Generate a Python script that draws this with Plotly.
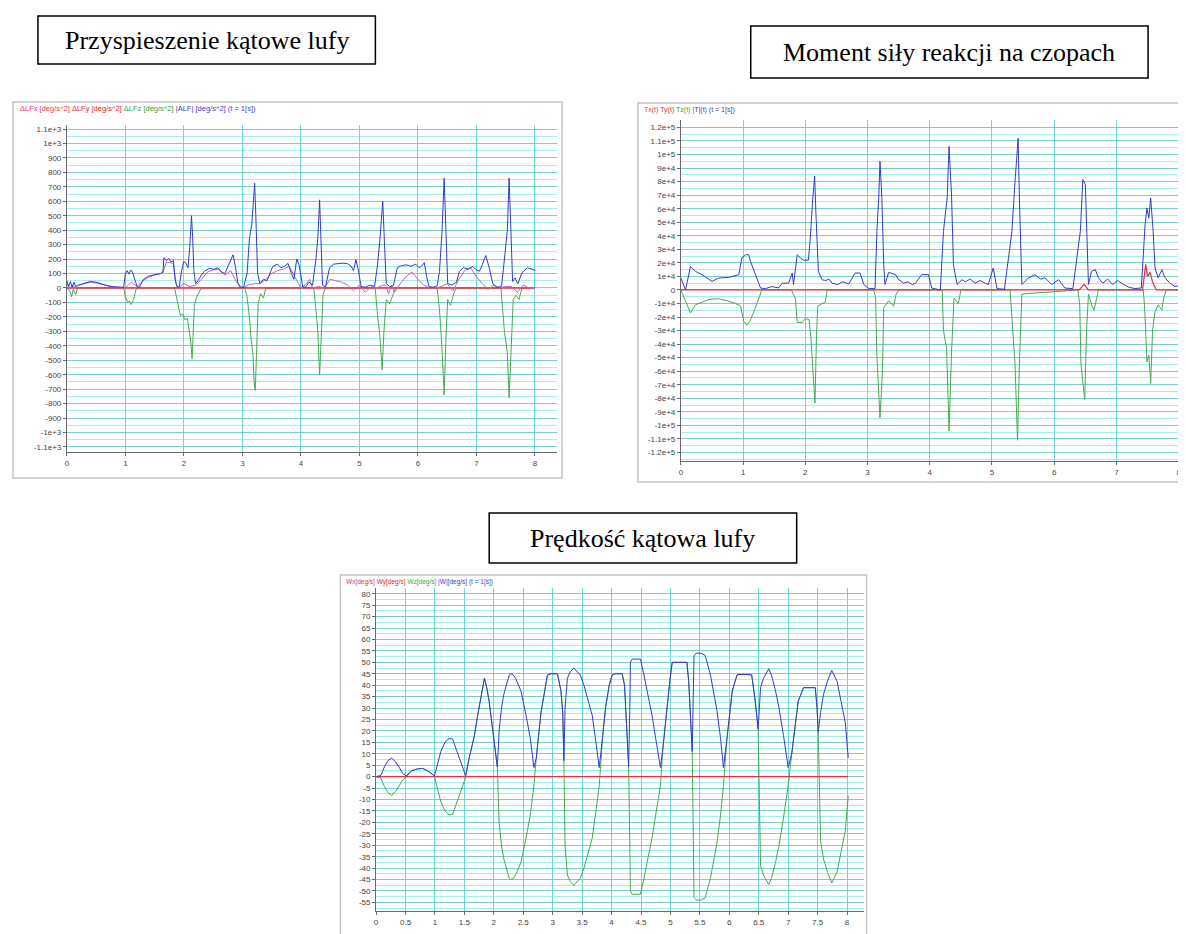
import plotly.graph_objects as go
import numpy as np

W, H = 1186, 934

# ---------------- Chart 1: Przyspieszenie kątowe lufy  [deg/s^2] ----------------
acc_t_mag = [0.00,0.03,0.06,0.09,0.12,0.15,0.20,0.30,0.40,0.50,
             0.60,0.70,0.80,0.90,0.97,1.00,1.03,1.06,1.09,1.12,
             1.16,1.20,1.24,1.30,1.38,1.46,1.54,1.60,1.64,1.66,
             1.70,1.74,1.78,1.82,1.85,1.88,1.92,1.96,2.00,2.04,
             2.07,2.10,2.12,2.13,2.15,2.17,2.20,2.24,2.30,2.36,
             2.44,2.52,2.58,2.64,2.70,2.75,2.80,2.84,2.88,2.92,
             2.96,3.02,3.08,3.12,3.16,3.19,3.21,3.23,3.26,3.30,
             3.36,3.42,3.48,3.52,3.60,3.66,3.72,3.78,3.84,3.88,
             3.93,3.97,4.03,4.08,4.14,4.20,4.26,4.29,4.32,4.35,
             4.37,4.42,4.49,4.56,4.64,4.72,4.80,4.86,4.90,4.94,
             4.98,5.03,5.10,5.18,5.26,5.31,5.35,5.40,5.43,5.46,
             5.52,5.58,5.65,5.72,5.80,5.88,5.96,6.02,6.06,6.11,
             6.15,6.19,6.26,6.33,6.37,6.41,6.45,6.48,6.51,6.58,
             6.66,6.71,6.78,6.86,6.94,7.00,7.05,7.10,7.16,7.22,
             7.28,7.35,7.43,7.47,7.53,7.56,7.59,7.62,7.66,7.71,
             7.78,7.87,7.95,8.01]
acc_mag = [50,10,45,5,40,10,20,35,45,40,
           25,15,8,5,5,100,120,95,125,110,
           60,10,5,55,80,90,95,100,110,210,
           190,205,180,190,60,10,5,120,185,170,
           140,280,400,500,350,120,30,50,90,120,
           135,130,140,110,100,150,200,230,150,40,
           5,5,100,340,440,600,725,500,100,30,
           60,50,110,150,165,140,150,170,100,60,
           200,160,10,5,40,20,210,350,610,280,
           20,5,140,165,170,172,168,150,120,195,
           130,10,5,20,10,160,330,600,300,30,
           10,15,140,155,160,150,165,140,150,175,
           80,10,5,15,115,370,760,400,30,20,
           40,115,140,130,150,125,115,160,225,140,
           30,5,10,160,400,760,450,45,70,30,
           105,140,130,120]

acc_t_z = [0.00,0.05,0.08,0.11,0.15,0.18,
           0.97,1.00,1.04,1.07,1.10,1.14,1.18,1.22,
           1.84,1.87,1.90,1.94,1.98,2.02,2.06,2.09,2.12,2.14,2.16,2.18,2.22,2.26,2.30,
           3.04,3.08,3.12,3.15,3.18,3.20,3.22,3.24,3.27,3.31,3.36,3.40,
           4.22,4.26,4.29,4.32,4.35,4.38,4.42,
           5.27,5.31,5.35,5.39,5.42,5.46,5.52,5.58,5.62,
           6.33,6.37,6.41,6.45,6.48,6.51,6.56,6.62,6.66,
           7.42,7.48,7.53,7.56,7.59,7.63,7.68,7.73,7.78,
           8.00]
acc_z = [0,-20,-60,-10,-45,0,
         0,-60,-100,-90,-115,-80,-10,0,
         0,-60,-130,-190,-180,-220,-210,-300,-380,-490,-330,-120,-60,-30,0,
         0,-60,-200,-360,-450,-650,-710,-450,-110,-40,-70,0,
         0,-160,-300,-600,-250,-40,0,
         0,-185,-330,-565,-300,-80,-110,-40,0,
         0,-150,-400,-740,-350,-80,-120,-30,0,
         0,-300,-450,-760,-420,-80,-50,-80,0,
         0]

acc_t_y = [0.00,0.05,0.10,0.15,0.20,0.30,0.40,0.50,0.60,0.75,
           0.90,1.00,1.10,1.20,1.30,1.40,1.50,1.60,1.64,1.70,
           1.76,1.82,1.86,1.90,2.00,2.10,2.20,2.30,2.40,2.50,
           2.60,2.70,2.80,2.90,3.00,3.10,3.20,3.30,3.40,3.50,
           3.60,3.70,3.80,3.90,4.00,4.10,4.15,4.20,4.30,4.40,
           4.50,4.60,4.70,4.80,4.90,5.00,5.10,5.20,5.30,5.40,
           5.45,5.50,5.55,5.60,5.70,5.80,5.90,6.00,6.10,6.20,
           6.30,6.40,6.50,6.60,6.70,6.80,6.90,7.00,7.10,7.20,
           7.30,7.40,7.50,7.60,7.70,7.80,7.90,8.00]
acc_y = [30,-10,20,0,20,30,40,35,25,10,
         5,0,40,10,50,75,90,100,105,180,
         175,170,40,0,30,10,20,60,110,125,
         130,90,120,40,0,20,30,30,60,100,
         120,130,150,80,0,30,60,0,10,0,
         60,50,40,20,-20,20,-30,10,0,20,
         20,-40,20,-30,30,80,110,60,20,0,
         0,10,30,-20,60,120,140,80,30,-10,
         20,0,10,10,-30,20,0,0]

acc_t_x = [0.0, 2.0, 4.0, 6.0, 8.0]
acc_x = [0, 0, 0, 0, 0]

acc_ticks = [-1100,-1000,-900,-800,-700,-600,-500,-400,-300,-200,-100,0,
             100,200,300,400,500,600,700,800,900,1000,1100]
acc_labels = ["-1.1e+3","-1e+3","-900","-800","-700","-600","-500","-400","-300","-200","-100","0",
              "100","200","300","400","500","600","700","800","900","1e+3","1.1e+3"]

# ---------------- Chart 2: Moment siły reakcji na czopach  [x 1e4 N*m] ----------------
mom_t_mag = [0.00,0.075,0.155,0.235,0.34,0.50,0.61,0.77,0.93,0.98,
             1.04,1.09,1.12,1.20,1.28,1.36,1.46,1.57,1.63,1.73,
             1.79,1.81,1.87,1.92,1.97,2.05,2.08,2.12,2.15,2.17,
             2.20,2.21,2.27,2.33,2.38,2.43,2.52,2.60,2.70,2.80,
             2.88,2.94,3.02,3.12,3.15,3.18,3.20,3.23,3.26,3.28,
             3.34,3.40,3.45,3.50,3.58,3.65,3.72,3.77,3.87,3.98,
             4.03,4.17,4.22,4.28,4.31,4.35,4.38,4.44,4.52,4.57,
             4.65,4.73,4.81,4.89,4.94,5.02,5.08,5.20,5.32,5.37,
             5.42,5.44,5.48,5.59,5.69,5.78,5.85,5.96,6.07,6.17,
             6.30,6.42,6.46,6.50,6.52,6.55,6.60,6.66,6.71,6.78,
             6.86,6.94,7.02,7.08,7.20,7.30,7.40,7.46,7.49,7.52,
             7.55,7.59,7.62,7.67,7.73,7.78,7.86,7.94,8.00,8.05]
mom_mag = [0.88,0.0,1.74,1.37,1.13,0.63,0.88,0.93,1.13,2.36,
           2.6,2.6,2.1,1.13,0.14,0.1,0.25,0.15,0.5,0.5,
           1.25,0.4,2.6,2.36,2.2,2.2,3.84,6.8,8.4,5.7,
           2.85,1.37,0.75,0.7,0.8,0.5,0.4,0.6,0.45,1.25,
           1.25,0.4,0.1,0.1,4.33,6.8,9.5,6.8,1.86,0.4,
           1.3,1.2,1.13,0.76,0.5,0.6,0.4,0.5,1.13,1.13,
           0.14,0.0,4.33,6.8,10.6,7.0,1.86,0.4,0.76,0.6,
           0.8,0.5,0.7,0.5,0.4,1.62,0.1,0.05,4.33,8.0,
           11.2,6.8,0.4,0.9,1.13,0.8,0.9,0.4,0.76,0.14,
           0.1,4.33,8.15,7.8,4.8,0.4,1.37,1.5,0.9,0.5,
           0.8,0.4,0.7,0.5,0.2,0.1,0.15,4.8,6.05,5.3,
           6.8,4.33,1.62,0.9,1.5,0.9,0.5,0.26,0.3,0.0]

mom_t_z = [0.0,0.075,0.155,0.235,0.34,0.45,0.6,0.75,0.88,0.96,1.01,1.06,1.11,1.2,1.3,
           1.78,1.81,1.84,1.87,1.95,2.0,2.06,2.09,2.12,2.155,2.18,2.2,2.27,2.32,2.35,
           3.1,3.13,3.15,3.2,3.24,3.26,3.34,3.42,3.46,3.5,
           4.2,4.22,4.27,4.31,4.35,4.39,4.46,4.5,
           5.29,5.33,5.37,5.41,5.44,5.48,
           6.38,6.41,6.43,6.49,6.52,6.55,6.6,6.64,6.68,6.71,
           7.43,7.45,7.47,7.49,7.52,7.55,7.58,7.62,7.67,7.73,7.76,7.8,8.05]
mom_z = [0,-0.85,-1.7,-1.1,-0.9,-0.7,-0.65,-0.8,-1.0,-1.2,-2.3,-2.6,-2.3,-1.3,0,
         0,-0.35,-0.6,-2.4,-2.4,-2.1,-2.2,-3.5,-5.5,-8.35,-3.3,-1.2,-1.0,-0.9,0,
         0,-0.6,-4.8,-9.45,-6.0,-1.3,-0.8,-1.2,-0.3,0,
         0,-3.0,-4.3,-10.4,-4.6,-0.6,-1.0,0,
         0,-2.7,-5.5,-11.1,-5.5,-0.3,
         0,-1.1,-5.5,-8.1,-3.0,-0.3,-1.1,-1.5,-0.6,0,
         0,-1.1,-3.0,-5.3,-4.8,-6.9,-3.0,-1.6,-1.1,-1.5,-0.6,0,0]

mom_t_x = [0.0, 6.40, 6.48, 6.55, 7.42, 7.47, 7.50, 7.54, 7.58, 7.64, 8.05]
mom_x = [0, 0, 0.4, 0, 0, 1.9, 1.0, 1.3, 0.6, 0, 0]

mom_ticks = [-12,-11,-10,-9,-8,-7,-6,-5,-4,-3,-2,-1,0,1,2,3,4,5,6,7,8,9,10,11,12]
mom_labels = ["-1.2e+5","-1.1e+5","-1e+5","-9e+4","-8e+4","-7e+4","-6e+4","-5e+4","-4e+4",
              "-3e+4","-2e+4","-1e+4","0","1e+4","2e+4","3e+4","4e+4","5e+4","6e+4","7e+4",
              "8e+4","9e+4","1e+5","1.1e+5","1.2e+5"]

# ---------------- Chart 3: Prędkość kątowa lufy  [deg/s] ----------------
vel_t = [0.00,0.08,0.14,0.20,0.265,0.33,0.39,0.45,0.51,0.60,
         0.70,0.79,0.88,0.99,1.05,1.10,1.17,1.24,1.30,1.36,
         1.41,1.47,1.52,1.58,1.67,1.72,1.78,1.84,1.86,1.88,
         1.92,1.98,2.03,2.06,2.09,2.13,2.17,2.22,2.26,2.29,
         2.33,2.37,2.42,2.46,2.54,2.62,2.68,2.72,2.80,2.86,
         2.91,2.97,3.03,3.08,3.14,3.17,3.19,3.21,3.25,3.30,
         3.36,3.42,3.47,3.53,3.59,3.67,3.74,3.79,3.85,3.90,
         3.96,4.01,4.06,4.12,4.18,4.22,4.24,4.27,4.29,4.31,
         4.32,4.35,4.42,4.49,4.55,4.62,4.69,4.76,4.83,4.87,
         4.94,4.99,5.03,5.08,5.18,5.28,5.31,5.34,5.37,5.40,
         5.44,5.52,5.59,5.68,5.73,5.79,5.85,5.90,5.96,6.05,
         6.13,6.16,6.28,6.38,6.44,6.47,6.49,6.53,6.58,6.67,
         6.72,6.78,6.84,6.92,7.00,7.06,7.12,7.17,7.26,7.34,
         7.46,7.49,7.51,7.55,7.60,7.67,7.74,7.83,7.90,7.97,
         8.02]
vel_mag = [0,0.5,4.2,7,8.1,6.5,4.2,1.5,0.3,2.5,
           3.4,3.6,2.5,0.3,6,11,15,16.7,16.4,12,
           8.3,4,0.5,8,18,26,34.7,43,41,38.9,
           33,20,10,4.2,20,30,36,41,44.4,45,
           44.5,43,40,37.5,27.8,16.7,4,8,27.8,38,
           44.4,45,45,45,37.5,28,7,30,43,46,
           47.5,46,44.4,40,34.7,27,14,4,18,30.6,
           40,44.4,45,45,45,40,30.6,15,4.5,30,
           50,51.4,51.4,51.4,44.4,35,26.4,15,4,12,
           30.6,42,50,50,50,50,41.7,28,11,52.8,
           54,54,53,44.4,38,29,17,4,16.7,37.5,
           44.4,44.7,44.7,44.5,33,26,20.8,38.9,43,47.2,
           44,38,30.6,18,4,10,24,33,38.9,39,
           38.9,30,19.4,28,36,42,46.5,41.7,33,23.6,
           8.3]
vel_z = [0,-0.5,-4.2,-7,-8.1,-6.5,-4.2,-1.5,-0.3,
         2.5,3.4,3.6,2.5,
         0.3,
         -6,-11,-15,-16.7,-16.4,-12,-8.3,-4,
         -0.5,
         8,18,26,34.7,43,41,38.9,33,20,10,4.2,
         -20,-30,-36,-41,-44.4,-45,-44.5,-43,-40,-37.5,-27.8,-16.7,
         -4,
         8,27.8,38,44.4,45,45,45,37.5,28,7,
         -30,-43,-46,-47.5,-46,-44.4,-40,-34.7,-27,-14,
         -4,
         18,30.6,40,44.4,45,45,45,40,30.6,15,4.5,
         -30,-50,-51.4,-51.4,-51.4,-44.4,-35,-26.4,-15,
         -4,
         12,30.6,42,50,50,50,50,41.7,28,11,
         -52.8,-54,-54,-53,-44.4,-38,-29,-17,
         -4,
         16.7,37.5,44.4,44.7,44.7,44.5,33,26,20.8,
         -38.9,-43,-47.2,-44,-38,-30.6,-18,
         -4,
         10,24,33,38.9,39,38.9,30,19.4,
         -28,-36,-42,-46.5,-41.7,-33,-23.6,-8.3]
vel_t_x = [0.0, 2.0, 4.0, 6.0, 8.02]
vel_x = [0, 0, 0, 0, 0]

vel_ticks = [-55,-50,-45,-40,-35,-30,-25,-20,-15,-10,-5,0,5,10,15,20,25,30,35,40,45,50,55,60,65,70,75,80]
vel_xticks = [0,0.5,1,1.5,2,2.5,3,3.5,4,4.5,5,5.5,6,6.5,7,7.5,8]
vel_xlabels = ["0","0.5","1","1.5","2","2.5","3","3.5","4","4.5","5","5.5","6","6.5","7","7.5","8"]
int_ticks = [0,1,2,3,4,5,6,7,8]

# ---------------- styling ----------------
BLUE = "rgb(50,60,200)"
GREEN = "rgb(70,170,80)"
RED = "rgb(230,50,70)"
PINK = "rgb(205,90,200)"
GRID_V = "rgb(110,215,215)"
GRID_H = "rgb(120,205,205)"
GRID_MINOR = "rgb(165,240,240)"
AXC = "#6a6a6a"
TICKFONT = dict(family="Liberation Sans", size=8, color="#444")


def fx(p):
    return p / W


def fy(p):
    return 1 - p / H


def xaxis(dom, rng, vals, texts, anchor):
    return dict(domain=[fx(dom[0]), fx(dom[1])], range=rng, tickmode="array",
                tickvals=vals, ticktext=texts, showgrid=True, gridcolor=GRID_V,
                gridwidth=1, showline=True, linecolor=AXC, linewidth=1,
                ticks="outside", ticklen=3, tickcolor=AXC, tickfont=TICKFONT,
                zeroline=False, anchor=anchor, fixedrange=True)


def yaxis(dom, rng, vals, texts, anchor, minor_step):
    return dict(domain=[fy(dom[1]), fy(dom[0])], range=rng, tickmode="array",
                tickvals=vals, ticktext=texts, showgrid=True, gridcolor=GRID_H,
                gridwidth=1, showline=True, linecolor=AXC, linewidth=1,
                ticks="outside", ticklen=3, tickcolor=AXC, tickfont=TICKFONT,
                zeroline=False, anchor=anchor, fixedrange=True,
                minor=dict(tickmode="linear", tick0=0, dtick=minor_step,
                           showgrid=True, gridcolor=GRID_MINOR, gridwidth=1, ticks=""))


def line(x, y, color, xa, ya, w=1.0):
    return go.Scatter(x=x, y=y, mode="lines", line=dict(color=color, width=w),
                      xaxis=xa, yaxis=ya, hoverinfo="skip", showlegend=False)


fig = go.Figure()

# chart 1
fig.add_trace(line(acc_t_z, acc_z, GREEN, "x", "y"))
fig.add_trace(line(acc_t_x, acc_x, RED, "x", "y", 1.3))
fig.add_trace(line(acc_t_y, acc_y, PINK, "x", "y"))
fig.add_trace(line(acc_t_mag, acc_mag, BLUE, "x", "y"))

# chart 2
fig.add_trace(line(mom_t_z, np.array(mom_z) * 1e4, GREEN, "x2", "y2"))
fig.add_trace(line(mom_t_x, np.array(mom_x) * 1e4, RED, "x2", "y2", 1.3))
fig.add_trace(line(mom_t_mag, np.array(mom_mag) * 1e4, BLUE, "x2", "y2"))

# chart 3
fig.add_trace(line(vel_t, vel_z, GREEN, "x3", "y3"))
fig.add_trace(line(vel_t_x, vel_x, RED, "x3", "y3", 1.3))
fig.add_trace(line(vel_t, vel_mag, BLUE, "x3", "y3"))

fig.update_layout(
    width=W, height=H, margin=dict(l=0, r=0, t=0, b=0),
    paper_bgcolor="white", plot_bgcolor="white", showlegend=False,
    xaxis=xaxis((57, 548), [0, 8.38], int_ticks, [str(v) for v in int_ticks], "y"),
    yaxis=yaxis((117, 444), [-1135, 1128], acc_ticks, acc_labels, "x", 50),
    xaxis2=xaxis((672, 1180), [0, 8.15], int_ticks, [str(v) for v in int_ticks], "y2"),
    yaxis2=yaxis((112, 453), [-126300, 125500], [v * 1e4 for v in mom_ticks], mom_labels, "x2", 5000),
    xaxis3=xaxis((366.7, 855), [0, 8.28], vel_xticks, vel_xlabels, "y3"),
    yaxis3=yaxis((580, 903), [-58.75, 82.5], vel_ticks, [str(v) for v in vel_ticks], "x3", 2.5),
)

shapes = []
# panel frames
for (x0, y0, x1, y1) in [(3, 94, 553, 470), (629, 95, 1183, 474), (331, 567, 858, 932)]:
    shapes.append(dict(type="rect", xref="paper", yref="paper", x0=fx(x0), x1=fx(x1),
                       y0=fy(y1), y1=fy(y0), line=dict(color="#c4c4c4", width=1.5), layer="below"))
# title boxes
boxes = [((28, 8, 366, 56), "Przyspieszenie kątowe lufy"),
         ((742, 18, 1140, 70), "Moment siły reakcji na czopach"),
         ((480, 505, 788, 555), "Prędkość kątowa lufy")]
annotations = []
for (x0, y0, x1, y1), txt in boxes:
    shapes.append(dict(type="rect", xref="paper", yref="paper", x0=fx(x0), x1=fx(x1),
                       y0=fy(y1), y1=fy(y0), line=dict(color="black", width=1.5)))
    annotations.append(dict(xref="paper", yref="paper", x=fx((x0 + x1) / 2), y=fy((y0 + y1) / 2),
                            text=txt, showarrow=False, xanchor="center", yanchor="middle",
                            font=dict(family="Liberation Serif", size=26, color="black")))

# chart headers (small coloured legend text)
hdr1 = ("<span style='color:rgb(230,60,90)'>ΔLFx [deg/s^2]</span> "
        "<span style='color:rgb(220,40,40)'>ΔLFy [deg/s^2]</span> "
        "<span style='color:rgb(60,160,60)'>ΔLFz [deg/s^2]</span> "
        "<span style='color:rgb(60,60,200)'>|ALF| [deg/s^2] (t = 1[s])</span>")
hdr2 = ("<span style='color:rgb(220,60,80)'>Tx(t)</span> "
        "<span style='color:rgb(220,40,40)'>Ty(t)</span> "
        "<span style='color:rgb(60,160,60)'>Tz(t)</span> "
        "<span style='color:rgb(60,60,200)'>|T|(t) (t = 1[s])</span>")
hdr3 = ("<span style='color:rgb(200,60,90)'>Wx[deg/s]</span> "
        "<span style='color:rgb(220,40,40)'>Wy[deg/s]</span> "
        "<span style='color:rgb(60,160,60)'>Wz[deg/s]</span> "
        "<span style='color:rgb(60,60,200)'>|W|[deg/s] (t = 1[s])</span>")
for px_, py_, txt, sz in [(8, 100, hdr1, 7.5), (633, 102, hdr2, 7), (335, 574, hdr3, 6.5)]:
    annotations.append(dict(xref="paper", yref="paper", x=fx(px_), y=fy(py_), text=txt,
                            showarrow=False, xanchor="left", yanchor="middle",
                            font=dict(family="Liberation Sans", size=sz)))

fig.update_layout(shapes=shapes, annotations=annotations)
fig.write_html("out.html")
